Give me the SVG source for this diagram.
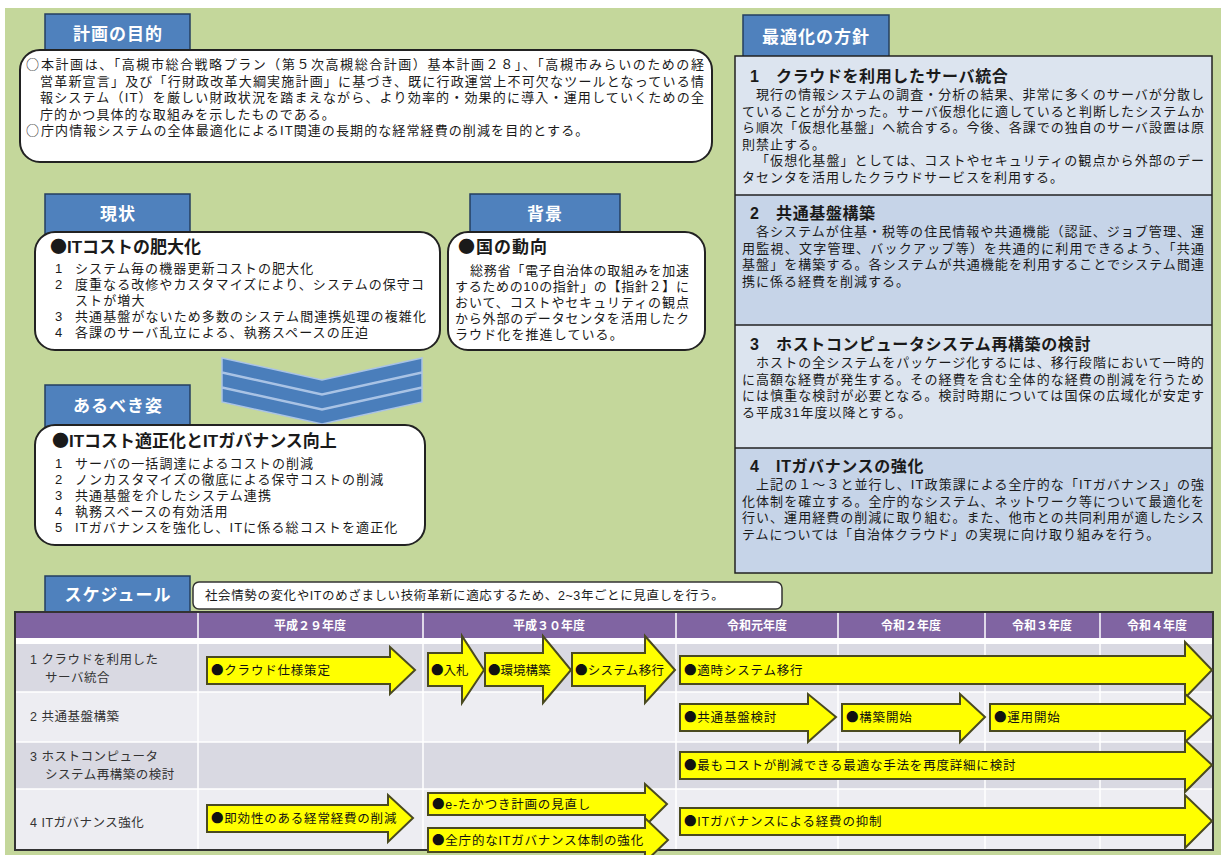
<svg xmlns="http://www.w3.org/2000/svg" width="1221" height="855" viewBox="0 0 1221 855" xml:lang="ja">
<defs>
<style>
text{font-family:"Liberation Sans","Noto Sans CJK JP","Noto Sans CJK SC",sans-serif;fill:#1a1a1a}
.cj{font-family:"Noto Sans CJK JP","Noto Sans CJK SC",sans-serif}
.tab rect{fill:#4f81bd;stroke:#243f60;stroke-width:1.5}
.tab text{fill:#fff;font-weight:bold;font-size:17px;text-anchor:middle;letter-spacing:1px}
.box{fill:#fff;stroke:#222;stroke-width:2}
.b{font-size:13px;letter-spacing:1.1px}
.h{font-size:17px;font-weight:bold}
.rh{font-size:16px;font-weight:bold;letter-spacing:0.6px}
.rb{font-size:13px;letter-spacing:1px}
.sec{stroke:#222;stroke-width:1.5}
.hd{fill:#fff;font-size:12px;font-weight:bold;text-anchor:middle}
.rl{font-size:12.5px;fill:#333;letter-spacing:0.5px}
.ar{fill:#ffff00;stroke:#4a4a20;stroke-width:2;stroke-linejoin:miter}
.al{font-size:12.5px;letter-spacing:0.8px;fill:#111}
.chev{fill:#4a7ebb;stroke:#a9c3e6;stroke-width:1.5}
</style>
</defs>
<rect x="0" y="0" width="1221" height="855" fill="#fff"/>
<rect x="5" y="8" width="1216" height="847" fill="#c4d79b"/>

<!-- Purpose -->
<g id="purpose">
<g class="tab"><rect x="45" y="14" width="145" height="40"/><text x="118" y="40">計画の目的</text></g>
<rect class="box" x="20" y="50" width="692" height="112" rx="20"/>
<text class="b"><tspan class="cj" x="26" y="69">○</tspan><tspan x="41" y="69" textLength="664" lengthAdjust="spacing">本計画は、「高槻市総合戦略プラン（第５次高槻総合計画）基本計画２８」、「高槻市みらいのための経</tspan><tspan x="40" y="85.5" textLength="665" lengthAdjust="spacing">営革新宣言」及び「行財政改革大綱実施計画」に基づき、既に行政運営上不可欠なツールとなっている情</tspan><tspan x="40" y="102" textLength="665" lengthAdjust="spacing">報システム（IT）を厳しい財政状況を踏まえながら、より効率的・効果的に導入・運用していくための全</tspan><tspan x="40" y="118.5">庁的かつ具体的な取組みを示したものである。</tspan><tspan class="cj" x="26" y="135">○</tspan><tspan x="41" y="135">庁内情報システムの全体最適化によるIT関連の長期的な経常経費の削減を目的とする。</tspan></text>
</g>

<!-- Current -->
<g id="current">
<g class="tab"><rect x="45" y="194" width="145" height="40"/><text x="118" y="220">現状</text></g>
<rect class="box" x="35" y="232" width="405" height="118" rx="20"/>
<text class="h" x="50" y="253"><tspan class="cj">●</tspan>ITコストの肥大化</text>
<text class="b"><tspan x="55" y="273">1</tspan><tspan x="75" y="273">システム毎の機器更新コストの肥大化</tspan><tspan x="55" y="289">2</tspan><tspan x="75" y="289" textLength="350" lengthAdjust="spacing">度重なる改修やカスタマイズにより、システムの保守コ</tspan><tspan x="75" y="305">ストが増大</tspan><tspan x="55" y="321">3</tspan><tspan x="75" y="321" textLength="352" lengthAdjust="spacing">共通基盤がないため多数のシステム間連携処理の複雑化</tspan><tspan x="55" y="337">4</tspan><tspan x="75" y="337">各課のサーバ乱立による、執務スペースの圧迫</tspan></text>
</g>

<!-- Background -->
<g id="background">
<g class="tab"><rect x="470" y="194" width="150" height="40"/><text x="545" y="220">背景</text></g>
<rect class="box" x="448" y="232" width="257" height="118" rx="20"/>
<text class="h" x="458" y="253" style="letter-spacing:1px"><tspan class="cj">●</tspan>国の動向</text>
<text class="b"><tspan x="470" y="275" textLength="220" lengthAdjust="spacing">総務省「電子自治体の取組みを加速</tspan><tspan x="455" y="291" textLength="235" lengthAdjust="spacing">するための10の指針」の【指針２】に</tspan><tspan x="455" y="307" textLength="235" lengthAdjust="spacing">おいて、コストやセキュリティの観点</tspan><tspan x="455" y="323" textLength="235" lengthAdjust="spacing">から外部のデータセンタを活用したク</tspan><tspan x="455" y="339">ラウド化を推進している。</tspan></text>
</g>

<!-- Connectors (chevrons) -->
<g id="connectors">
<polygon class="chev" points="222,388 322,410 422,388 422,402 322,424 222,402"/>
<polygon class="chev" points="222,373 322,395 422,373 422,387 322,409 222,387"/>
<polygon class="chev" points="222,358 322,380 422,358 422,372 322,394 222,372"/>
</g>

<!-- Ideal -->
<g id="ideal">
<g class="tab"><rect x="45" y="385" width="145" height="42"/><text x="118" y="412">あるべき姿</text></g>
<rect class="box" x="35" y="425" width="390" height="120" rx="20"/>
<text class="h" x="52" y="447"><tspan class="cj">●</tspan>ITコスト適正化とITガバナンス向上</text>
<text class="b"><tspan x="55" y="468">1</tspan><tspan x="75" y="468">サーバの一括調達によるコストの削減</tspan><tspan x="55" y="484">2</tspan><tspan x="75" y="484">ノンカスタマイズの徹底による保守コストの削減</tspan><tspan x="55" y="500">3</tspan><tspan x="75" y="500">共通基盤を介したシステム連携</tspan><tspan x="55" y="516">4</tspan><tspan x="75" y="516">執務スペースの有効活用</tspan><tspan x="55" y="532">5</tspan><tspan x="75" y="532">ITガバナンスを強化し、ITに係る総コストを適正化</tspan></text>
</g>

<!-- Policy -->
<g id="policy">
<g class="tab"><rect x="743" y="15" width="146" height="42"/><text x="816" y="43">最適化の方針</text></g>
<rect x="735" y="56" width="477" height="139" fill="#dce4ef"/>
<rect x="735" y="195" width="477" height="130" fill="#c6d4e8"/>
<rect x="735" y="325" width="477" height="123" fill="#dce4ef"/>
<rect x="735" y="448" width="477" height="125" fill="#c6d4e8"/>
<rect x="735" y="56" width="477" height="517" fill="none" class="sec"/>
<line class="sec" x1="735" y1="195" x2="1212" y2="195"/>
<line class="sec" x1="735" y1="325" x2="1212" y2="325"/>
<line class="sec" x1="735" y1="448" x2="1212" y2="448"/>

<text class="rh" x="750" y="82">1　クラウドを利用したサーバ統合</text>
<text class="rb"><tspan x="756" y="99" textLength="449" lengthAdjust="spacing">現行の情報システムの調査・分析の結果、非常に多くのサーバが分散し</tspan><tspan x="742" y="115.5" textLength="463" lengthAdjust="spacing">ていることが分かった。サーバ仮想化に適していると判断したシステムか</tspan><tspan x="742" y="132" textLength="463" lengthAdjust="spacing">ら順次「仮想化基盤」へ統合する。今後、各課での独自のサーバ設置は原</tspan><tspan x="742" y="148.5">則禁止する。</tspan><tspan x="756" y="165" textLength="449" lengthAdjust="spacing">「仮想化基盤」としては、コストやセキュリティの観点から外部のデー</tspan><tspan x="742" y="181.5">タセンタを活用したクラウドサービスを利用する。</tspan></text>

<text class="rh" x="750" y="219">2　共通基盤構築</text>
<text class="rb"><tspan x="756" y="236" textLength="449" lengthAdjust="spacing">各システムが住基・税等の住民情報や共通機能（認証、ジョブ管理、運</tspan><tspan x="742" y="252.5" textLength="463" lengthAdjust="spacing">用監視、文字管理、バックアップ等）を共通的に利用できるよう、「共通</tspan><tspan x="742" y="269" textLength="463" lengthAdjust="spacing">基盤」を構築する。各システムが共通機能を利用することでシステム間連</tspan><tspan x="742" y="285.5">携に係る経費を削減する。</tspan></text>

<text class="rh" x="750" y="350">3　ホストコンピュータシステム再構築の検討</text>
<text class="rb"><tspan x="756" y="367" textLength="449" lengthAdjust="spacing">ホストの全システムをパッケージ化するには、移行段階において一時的</tspan><tspan x="742" y="383.5" textLength="463" lengthAdjust="spacing">に高額な経費が発生する。その経費を含む全体的な経費の削減を行うため</tspan><tspan x="742" y="400" textLength="463" lengthAdjust="spacing">には慎重な検討が必要となる。検討時期については国保の広域化が安定す</tspan><tspan x="742" y="416.5">る平成31年度以降とする。</tspan></text>

<text class="rh" x="750" y="472">4　ITガバナンスの強化</text>
<text class="rb"><tspan x="756" y="489" textLength="449" lengthAdjust="spacing">上記の１～３と並行し、IT政策課による全庁的な「ITガバナンス」の強</tspan><tspan x="742" y="505.5" textLength="463" lengthAdjust="spacing">化体制を確立する。全庁的なシステム、ネットワーク等について最適化を</tspan><tspan x="742" y="522" textLength="463" lengthAdjust="spacing">行い、運用経費の削減に取り組む。また、他市との共同利用が適したシス</tspan><tspan x="742" y="538.5">テムについては「自治体クラウド」の実現に向け取り組みを行う。</tspan></text>
</g>

<!-- Schedule -->
<g id="schedule">
<g class="tab"><rect x="45" y="576" width="145" height="38"/><text x="118" y="601">スケジュール</text></g>
<rect x="193" y="582" width="589" height="27" rx="6" fill="#fff" stroke="#333" stroke-width="1.5"/>
<text class="b" x="205" y="600" style="font-size:12.5px;letter-spacing:0.6px">社会情勢の変化やITのめざましい技術革新に適応するため、2~3年ごとに見直しを行う。</text>

<rect x="15" y="612" width="1198" height="238" fill="#fff"/>
<rect x="15" y="612" width="1198" height="26" fill="#8064a2"/>
<rect x="15" y="644" width="1198" height="48" fill="#d9d9e2"/>
<rect x="15" y="692" width="1198" height="50" fill="#ededf2"/>
<rect x="15" y="742" width="1198" height="47" fill="#d9d9e2"/>
<rect x="15" y="789" width="1198" height="61" fill="#ededf2"/>
<g stroke="#fff" stroke-width="1.5">
<line x1="198" y1="612" x2="198" y2="850"/>
<line x1="423" y1="612" x2="423" y2="850"/>
<line x1="676" y1="612" x2="676" y2="850"/>
<line x1="838" y1="612" x2="838" y2="850"/>
<line x1="985" y1="612" x2="985" y2="850"/>
<line x1="1100" y1="612" x2="1100" y2="850"/>
<line x1="15" y1="692" x2="1213" y2="692"/>
<line x1="15" y1="742" x2="1213" y2="742"/>
<line x1="15" y1="789" x2="1213" y2="789"/>
</g>
<rect x="15" y="612" width="1198" height="238" fill="none" stroke="#333" stroke-width="2"/>
<text class="hd" x="310" y="630">平成２９年度</text>
<text class="hd" x="549" y="630">平成３０年度</text>
<text class="hd" x="757" y="630">令和元年度</text>
<text class="hd" x="911" y="630">令和２年度</text>
<text class="hd" x="1042" y="630">令和３年度</text>
<text class="hd" x="1157" y="630">令和４年度</text>

<text class="rl"><tspan x="30" y="664">1 クラウドを利用した</tspan><tspan x="45" y="682">サーバ統合</tspan></text>
<text class="rl" x="30" y="721">2 共通基盤構築</text>
<text class="rl"><tspan x="30" y="761">3 ホストコンピュータ</tspan><tspan x="45" y="779">システム再構築の検討</tspan></text>
<text class="rl" x="30" y="827">4 ITガバナンス強化</text>
</g>

<g id="arrows">
<path class="ar" d="M207,657 H390 V647 L415,670 L390,694 V684 H207 Z"/>
<text class="al" x="211" y="675"><tspan class="cj">●</tspan>クラウド仕様策定</text>
<path class="ar" d="M428,653 H462 V636 L484,670 L462,703 V686 H428 Z"/>
<text class="al" x="431" y="675" style="letter-spacing:0"><tspan class="cj">●</tspan>入札</text>
<path class="ar" d="M485,653 H543 V636 L571,670 L543,703 V686 H485 Z"/>
<text class="al" x="488" y="675" style="letter-spacing:0"><tspan class="cj">●</tspan>環境構築</text>
<path class="ar" d="M572,653 H645 V636 L675,670 L645,703 V686 H572 Z"/>
<text class="al" x="575" y="675" style="letter-spacing:0.3px"><tspan class="cj">●</tspan>システム移行</text>
<path class="ar" d="M680,656 H1185 V642 L1212,670 L1185,698 V684 H680 Z"/>
<text class="al" x="684" y="675"><tspan class="cj">●</tspan>適時システム移行</text>

<path class="ar" d="M680,704 H808 V694 L836,717 L808,742 V731 H680 Z"/>
<text class="al" x="684" y="722"><tspan class="cj">●</tspan>共通基盤検討</text>
<path class="ar" d="M842,704 H960 V694 L985,717 L960,742 V731 H842 Z"/>
<text class="al" x="846" y="722"><tspan class="cj">●</tspan>構築開始</text>
<path class="ar" d="M990,704 H1185 V694 L1212,717 L1185,742 V731 H990 Z"/>
<text class="al" x="994" y="722"><tspan class="cj">●</tspan>運用開始</text>

<path class="ar" d="M680,752 H1185 V740 L1212,765 L1185,792 V779 H680 Z"/>
<text class="al" x="684" y="770"><tspan class="cj">●</tspan>最もコストが削減できる最適な手法を再度詳細に検討</text>

<path class="ar" d="M207,805 H388 V795 L413,818 L388,842 V832 H207 Z"/>
<text class="al" x="211" y="823"><tspan class="cj">●</tspan>即効性のある経常経費の削減</text>
<path class="ar" d="M428,793 H645 V784 L667,804 L645,826 V815 H428 Z"/>
<text class="al" x="432" y="809"><tspan class="cj">●</tspan>e-たかつき計画の見直し</text>
<path class="ar" d="M428,828 H645 V818 L668,840 L645,862 V852 H428 Z"/>
<text class="al" x="432" y="845"><tspan class="cj">●</tspan>全庁的なITガバナンス体制の強化</text>
<path class="ar" d="M680,808 H1185 V795 L1212,821 L1185,848 V835 H680 Z"/>
<text class="al" x="684" y="826"><tspan class="cj">●</tspan>ITガバナンスによる経費の抑制</text>
</g>
</svg>
